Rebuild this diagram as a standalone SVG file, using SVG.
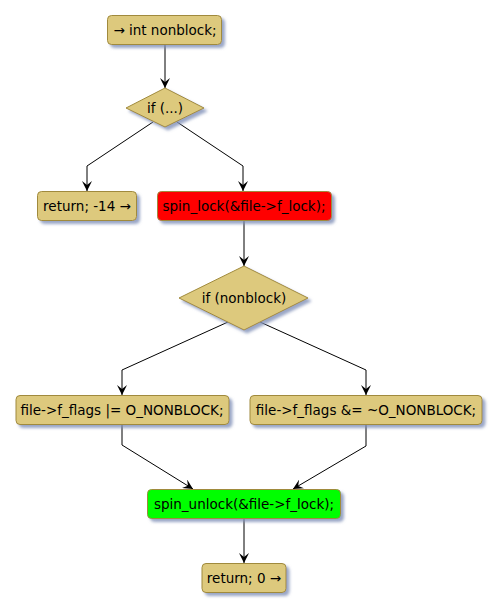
<svg xmlns="http://www.w3.org/2000/svg" width="500" height="611" viewBox="0 0 500 611">
<defs>
<filter id="sh" x="-20%" y="-20%" width="150%" height="160%">
<feGaussianBlur in="SourceAlpha" stdDeviation="1.5" result="b"/>
<feOffset dx="3" dy="3" in="b" result="o"/>
<feFlood flood-color="#8090B8" flood-opacity="0.8"/>
<feComposite in2="o" operator="in" result="s"/>
<feMerge><feMergeNode in="s"/><feMergeNode in="SourceGraphic"/></feMerge>
</filter>
<marker id="ah" viewBox="0 0 10 10" refX="10" refY="5" markerWidth="10" markerHeight="10" markerUnits="userSpaceOnUse" orient="auto">
<path d="M0,0 L10,5 L0,10 L4,5 Z" fill="#000"/>
</marker>
</defs>
<style>
.n{fill:#DDC97D;stroke:#A08A3C;stroke-width:1;filter:url(#sh)}
.t{font-family:"DejaVu Sans",sans-serif;font-size:13.5px;fill:#000;text-anchor:middle}
.c{fill:none;stroke:#000;stroke-width:1;marker-end:url(#ah)}
</style>
<rect width="500" height="611" fill="#fff"/>
<g id="connectors">
<path class="c" d="M165,45 V88"/>
<path class="c" d="M153,122 L87,166 V191"/>
<path class="c" d="M177,122 L243,166 V191"/>
<path class="c" d="M244,221 V266"/>
<path class="c" d="M228,322 L122,370 V395"/>
<path class="c" d="M260,322 L366,370 V395"/>
<path class="c" d="M122,424 V445 L193,489"/>
<path class="c" d="M366,424 V446 L293,489"/>
<path class="c" d="M244,518 V563"/>
</g>
<g id="start"><rect class="n" x="107.5" y="15.5" width="114" height="29" rx="4"/><text class="t" x="165" y="35">→ int nonblock;</text></g>
<g id="if1"><polygon class="n" points="126,108 165,88 204,108 165,127"/><text class="t" x="165" y="113">if (...)</text></g>
<g id="ret14"><rect class="n" x="37.5" y="191.5" width="99" height="29" rx="4"/><text class="t" x="87" y="211">return; -14 →</text></g>
<g id="spinlock"><rect class="n" style="fill:#FF0000" x="157.5" y="191.5" width="174" height="29" rx="4"/><text class="t" x="244" y="211">spin_lock(&amp;file-&gt;f_lock);</text></g>
<g id="if2"><polygon class="n" points="179,298 244,266 308,298 244,330"/><text class="t" x="244" y="303">if (nonblock)</text></g>
<g id="setnb"><rect class="n" x="16" y="395.5" width="213" height="29" rx="4"/><text class="t" x="122" y="415">file-&gt;f_flags |= O_NONBLOCK;</text></g>
<g id="clrnb"><rect class="n" x="250" y="395.5" width="232" height="29" rx="4"/><text class="t" x="366" y="415">file-&gt;f_flags &amp;= ~O_NONBLOCK;</text></g>
<g id="spinunlock"><rect class="n" style="fill:#00FF00" x="147.5" y="489.5" width="193" height="29" rx="4"/><text class="t" x="244" y="509">spin_unlock(&amp;file-&gt;f_lock);</text></g>
<g id="ret0"><rect class="n" x="202" y="563.5" width="84" height="29" rx="4"/><text class="t" x="244" y="583">return; 0 →</text></g>
</svg>
